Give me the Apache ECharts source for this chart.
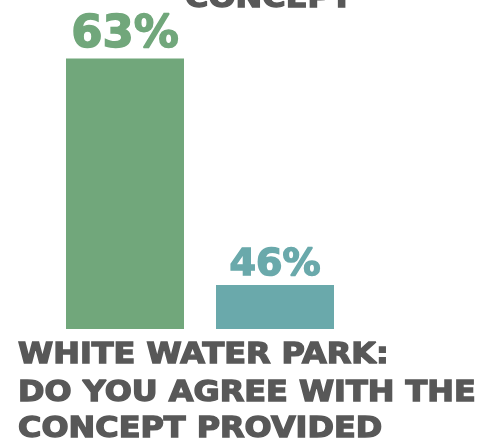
<!DOCTYPE html>
<html><head><meta charset="utf-8">
<script src="https://cdn.jsdelivr.net/npm/echarts@6/dist/echarts.min.js"></script>
<style>html,body{margin:0;padding:0;background:#fff}#c{width:481px;height:443px}</style>
</head><body><div id="c"></div>
<script>
const categories = ['Agree A', 'Agree B'];
const values = [63, 46];
const barColors = ['#71a77b', '#6aa9ab'];
const titleLines = ['WHITE WATER PARK:', 'DO YOU AGREE WITH THE', 'CONCEPT PROVIDED'];
const topText = 'CONCEPT';

const textGray = '#585858';
const lineCenters = [355, 393, 429];
function heading(text, x, y) {
  return {
    type: 'text', x: x, y: y, scaleX: 1.1, scaleY: 1,
    style: { text: text, font: 'bold 29px "DejaVu Sans"', fill: textGray,
      stroke: textGray, lineWidth: 1.4, textVerticalAlign: 'middle', verticalAlign: 'middle' }
  };
}

const chart = echarts.init(document.getElementById('c'));
chart.setOption({
  backgroundColor: '#fff',
  animation: false,
  grid: { left: 50, width: 300, top: 0, bottom: 114 },
  xAxis: { type: 'category', data: categories, show: false },
  yAxis: { type: 'value', min: 42.7, max: 67.4, show: false },
  graphic: [heading(topText, 185, -1)].concat(titleLines.map((t, i) => heading(t, 18, lineCenters[i]))),
  series: [{
    type: 'bar', barWidth: 118,
    data: values.map((v, i) => ({ value: v, itemStyle: { color: barColors[i] },
      label: { color: barColors[i], textBorderColor: barColors[i], fontSize: i === 0 ? 45 : 38 } })),
    label: { show: true, position: 'top', distance: 1, fontFamily: 'DejaVu Sans', fontWeight: 'bold',
      textBorderWidth: 1.5, formatter: p => p.value + '%' }
  }]
});
</script></body></html>
